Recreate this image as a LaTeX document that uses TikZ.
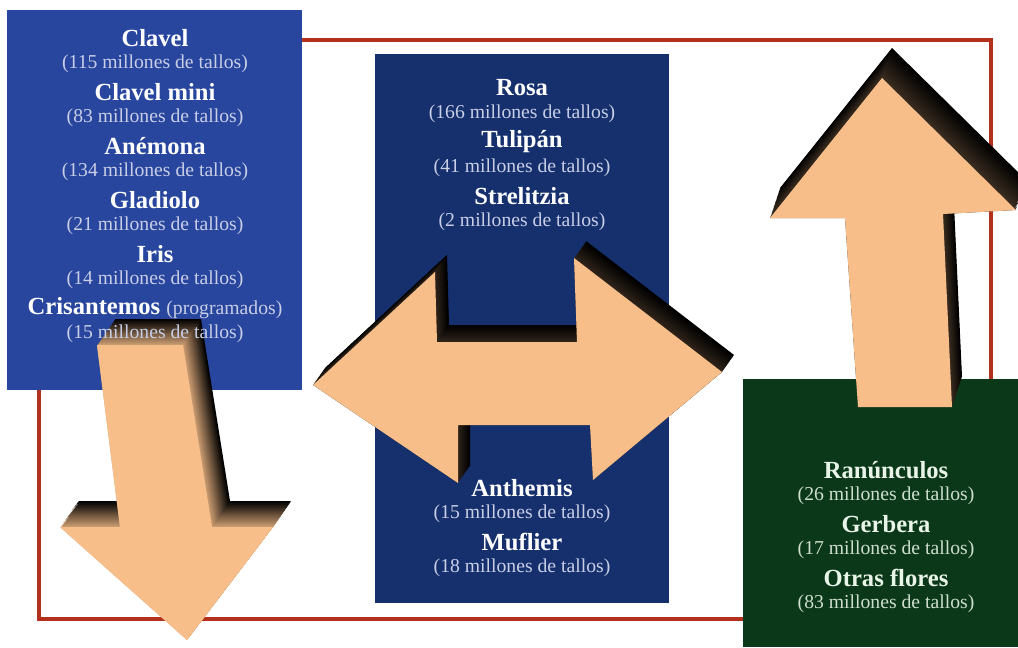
\documentclass[tikz,border=0pt]{standalone}
\usepackage{fontspec}
\setmainfont{Liberation Serif}
\definecolor{peach}{RGB}{247,190,138}
\definecolor{azul}{RGB}{40,70,158}
\definecolor{marino}{RGB}{22,48,110}
\definecolor{verde}{RGB}{12,56,26}
\definecolor{rojo}{RGB}{178,48,28}
\definecolor{gris}{RGB}{200,206,230}
\definecolor{grisverde}{RGB}{205,222,205}
\definecolor{blancoverde}{RGB}{232,245,232}

\newcommand{\flechaabajo}{(97,345) -- (183,345) -- (212,527) -- (273,527) -- (187,640) -- (60,527) -- (120,527) -- cycle}
\newcommand{\flechadoble}{(313,385) -- (435,272) -- (437,342) -- (577,342) -- (574,258) -- (722,372) -- (593,480) -- (590,425) -- (458,425) -- (458,483) -- cycle}
\newcommand{\flechaarriba}{(858,407) -- (845,218) -- (770,218) -- (882,78) -- (1016,210) -- (943,214) -- (952,407) -- cycle}
\newcommand{\prog}[1]{{\mdseries\fontsize{14}{16}\selectfont\color{gris}#1}}

% arrow with its depth: layers from the back face to the front face
\newcommand{\extrusion}[4]{
\foreach \k in {0,...,24}{
\pgfmathsetmacro{\s}{1-\k/24}
\pgfmathtruncatemacro{\p}{#4*\k/24}
\fill[peach!\p!black,shift={(\s*#2,\s*#3)}] #1;
}
\fill[peach] #1;
}

\begin{document}
\begin{tikzpicture}[x=0.025cm,y=-0.025cm]
\tikzstyle{flor}=[font=\bfseries\fontsize{17.5}{18}\selectfont,text=white,inner sep=0]
\tikzstyle{tallos}=[font=\fontsize{14}{16}\selectfont,text=gris,inner sep=0]
\useasboundingbox (0,0) rectangle (1018,647);
\draw[rojo,line width=3.5pt] (39,40) rectangle (991,619);
\fill[azul] (7,10) rectangle (302,390);
\fill[marino] (375,54) rectangle (669,603);
\fill[verde] (743,379) rectangle (1018,647);

\extrusion{\flechaabajo}{18}{-26}{85}
\extrusion{\flechadoble}{12}{-17}{20}
\extrusion{\flechaarriba}{10}{-30}{25}

\foreach \flor/\num [count=\i] in {Clavel/115,Clavel mini/83,Anémona/134,Gladiolo/21,Iris/14,{Crisantemos \prog{(programados)}}/15}{
\pgfmathsetmacro{\y}{38+54*(\i-1)}
\node[flor] (izq\i) at (155,\y) {\flor};
\node[tallos] (izqt\i) at (155,\y+26) {(\num{} millones de tallos)};
}
\foreach \flor/\num [count=\i] in {Rosa/166,Tulipán/41,Strelitzia/2}{
\pgfmathsetmacro{\y}{88+54*(\i-1)}
\node[flor] (cen\i) at (522,\y) {\flor};
\node[tallos] (cent\i) at (522,\y+26) {(\num{} millones de tallos)};
}
\foreach \flor/\num [count=\i] in {Anthemis/15,Muflier/18}{
\pgfmathsetmacro{\y}{488+54*(\i-1)}
\node[flor] (inf\i) at (522,\y) {\flor};
\node[tallos] (inft\i) at (522,\y+26) {(\num{} millones de tallos)};
}
\foreach \flor/\num [count=\i] in {Ranúnculos/26,Gerbera/17,Otras flores/83}{
\pgfmathsetmacro{\y}{470+54*(\i-1)}
\node[flor,text=blancoverde] (der\i) at (886,\y) {\flor};
\node[tallos,text=grisverde] (dert\i) at (886,\y+26) {(\num{} millones de tallos)};
}
\end{tikzpicture}
\end{document}
